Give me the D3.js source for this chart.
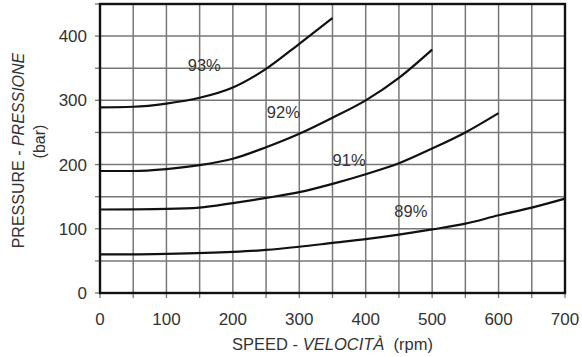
<!DOCTYPE html>
<html>
<head>
<meta charset="utf-8">
<script src="https://cdn.jsdelivr.net/npm/d3@7"></script>
<style>
  body { margin: 0; background: #fff; }
  svg text { font-family: "Liberation Sans", Arial, sans-serif; fill: #333; }
</style>
</head>
<body>
<svg id="chart" width="582" height="357"></svg>
<script>
// Efficiency curves: speed (rpm) vs pressure (bar)
const rpm93 = [0, 50, 100, 150, 200, 250, 300, 350];
const bar93 = [289, 290, 295, 304, 320, 349, 388, 428];

const rpm92 = [0, 50, 100, 150, 200, 250, 300, 350, 400, 450, 500];
const bar92 = [190, 190, 193, 199, 209, 227, 248, 273, 300, 335, 379];

const rpm91 = [0, 100, 150, 200, 250, 300, 350, 400, 450, 500, 550, 600];
const bar91 = [130, 131, 133, 140, 148, 157, 170, 185, 202, 225, 250, 280];

const rpm89 = [0, 100, 200, 250, 300, 350, 400, 450, 500, 550, 600, 650, 700];
const bar89 = [60, 61, 64, 67, 72, 78, 84, 91, 99, 108, 121, 133, 147];

const curveNames = ['93%', '92%', '91%', '89%'];
// where each label sits, in data units
const labelRpm = [157, 276, 375, 468];
const labelBar = [354, 281, 206, 127];

const xTicks = [0, 100, 200, 300, 400, 500, 600, 700];
const yTicks = [0, 100, 200, 300, 400];

const svg = d3.select('#chart');
const width = +svg.attr('width');
const height = +svg.attr('height');
const margin = {top: 4, right: 17, bottom: 64, left: 100};
const innerW = width - margin.left - margin.right;
const innerH = height - margin.top - margin.bottom;

const x = d3.scaleLinear().domain([0, 700]).range([0, innerW]);
const y = d3.scaleLinear().domain([0, 450]).range([innerH, 0]);

const g = svg.append('g')
             .attr('transform', 'translate(' + margin.left + ',' + margin.top + ')');

// grid every 50
const gridX = d3.range(50, 700, 50);
const gridY = d3.range(50, 450, 50);

const grid = g.append('g').attr('class', 'grid');

grid.selectAll('.vgrid')
    .data(gridX)
    .enter()
    .append('line')
    .attr('class', 'vgrid')
    .attr('x1', d => x(d)).attr('x2', d => x(d))
    .attr('y1', 0).attr('y2', innerH)
    .attr('stroke', '#777')
    .attr('stroke-width', 1.5);

grid.selectAll('.hgrid')
    .data(gridY)
    .enter()
    .append('line')
    .attr('class', 'hgrid')
    .attr('x1', 0).attr('x2', innerW)
    .attr('y1', d => y(d)).attr('y2', d => y(d))
    .attr('stroke', '#777')
    .attr('stroke-width', 1.5);

// short outer ticks
g.selectAll('.xtick')
 .data(d3.range(0, 701, 50))
 .enter()
 .append('line')
 .attr('class', 'xtick')
 .attr('x1', d => x(d)).attr('x2', d => x(d))
 .attr('y1', innerH).attr('y2', innerH + 5)
 .attr('stroke', '#777')
 .attr('stroke-width', 1.3);

g.selectAll('.ytick')
 .data(d3.range(0, 451, 50))
 .enter()
 .append('line')
 .attr('class', 'ytick')
 .attr('x1', -5).attr('x2', 0)
 .attr('y1', d => y(d)).attr('y2', d => y(d))
 .attr('stroke', '#777')
 .attr('stroke-width', 1.3);

// tick labels
g.selectAll('.xlab')
 .data(xTicks)
 .enter()
 .append('text')
 .attr('class', 'xlab')
 .attr('x', d => x(d))
 .attr('y', innerH + 32)
 .attr('text-anchor', 'middle')
 .style('font-size', '17px')
 .text(d => d);

g.selectAll('.ylab')
 .data(yTicks)
 .enter()
 .append('text')
 .attr('class', 'ylab')
 .attr('x', -13)
 .attr('y', d => y(d))
 .attr('dy', '0.35em')
 .attr('text-anchor', 'end')
 .style('font-size', '17px')
 .text(d => d);

// frame
g.append('rect')
 .attr('width', innerW).attr('height', innerH)
 .attr('fill', 'none').attr('stroke', '#111').attr('stroke-width', 2.4);

// curves
const series = [
  {rpm: rpm93, bar: bar93},
  {rpm: rpm92, bar: bar92},
  {rpm: rpm91, bar: bar91},
  {rpm: rpm89, bar: bar89}
];

const line = d3.line()
               .x(d => x(d[0]))
               .y(d => y(d[1]))
               .curve(d3.curveMonotoneX);

g.selectAll('.curve')
 .data(series)
 .enter()
 .append('path')
 .attr('class', 'curve')
 .attr('d', s => line(s.rpm.map((r, i) => [r, s.bar[i]])))
 .attr('fill', 'none')
 .attr('stroke', '#111')
 .attr('stroke-width', 2.2);

g.selectAll('.lbl')
 .data(curveNames)
 .enter()
 .append('text')
 .attr('class', 'lbl')
 .attr('x', (d, i) => x(labelRpm[i]))
 .attr('y', (d, i) => y(labelBar[i]))
 .attr('dy', '0.35em')
 .attr('text-anchor', 'middle')
 .style('font-size', '16.5px')
 .text(d => d);

// axis titles
const xt = svg.append('text')
              .attr('x', margin.left + innerW / 2)
              .attr('y', 350)
              .attr('text-anchor', 'middle')
              .style('font-size', '16.5px');
xt.append('tspan').text('SPEED - ');
xt.append('tspan').style('font-style', 'italic').text('VELOCITÀ');
xt.append('tspan').text('\u00a0 (rpm)');

const yt = svg.append('text')
              .attr('transform', 'translate(24,' + (margin.top + innerH / 2 + 2) + ') rotate(-90)')
              .attr('text-anchor', 'middle')
              .style('font-size', '16px');
yt.append('tspan').text('PRESSURE - ');
yt.append('tspan').style('font-style', 'italic').text('PRESSIONE');

svg.append('text')
   .attr('transform', 'translate(45,' + (margin.top + innerH / 2 - 7) + ') rotate(-90)')
   .attr('text-anchor', 'middle')
   .style('font-size', '16px')
   .text('(bar)');
</script>
</body>
</html>
